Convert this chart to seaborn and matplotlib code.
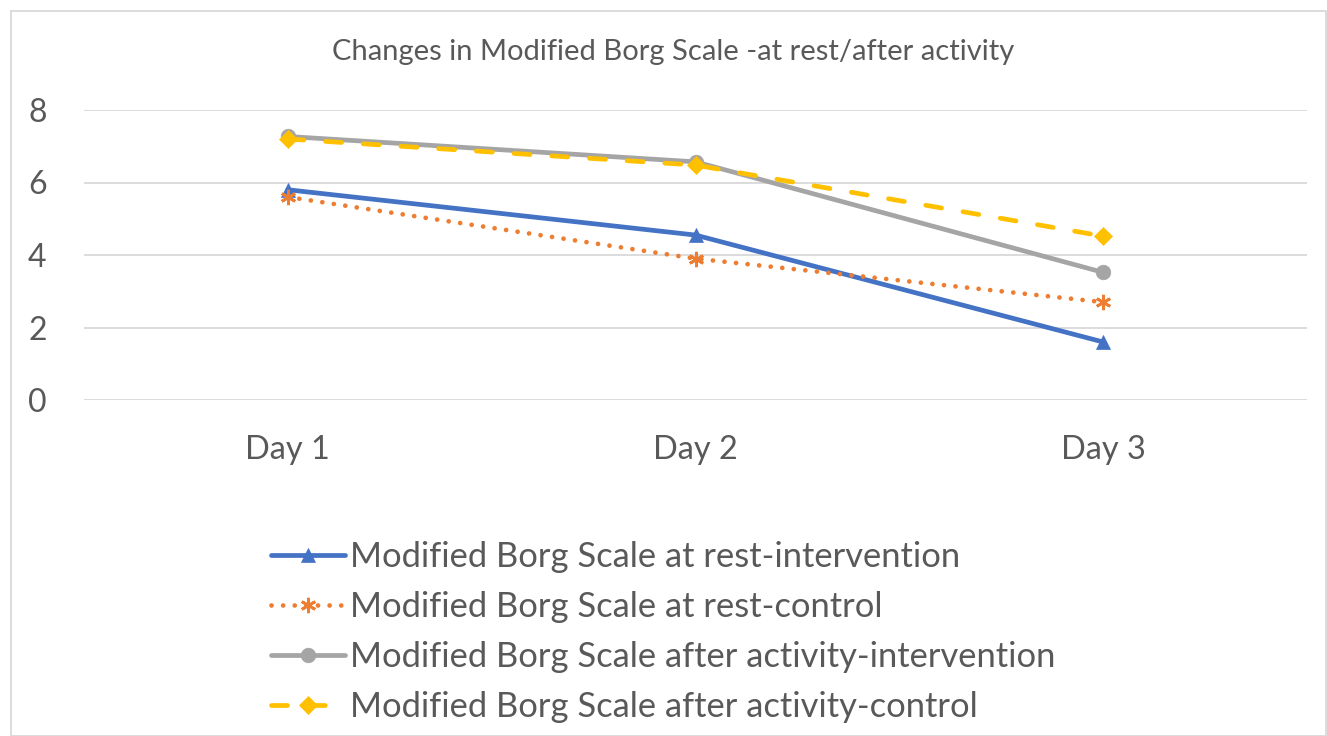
import matplotlib
matplotlib.use("Agg")
import matplotlib.pyplot as plt
import seaborn as sns
import pandas as pd
from matplotlib.patches import Rectangle

days = ["Day 1", "Day 2", "Day 3"]
rest_intervention = [5.8, 4.55, 1.6]
rest_control = [5.6, 3.9, 2.7]
after_intervention = [7.27, 6.57, 3.52]
after_control = [7.2, 6.48, 4.52]
series_names = [
    "Modified Borg Scale at rest-intervention",
    "Modified Borg Scale at rest-control",
    "Modified Borg Scale after activity-intervention",
    "Modified Borg Scale after activity-control",
]
title = "Changes in Modified Borg Scale -at rest/after activity"
yticks = [0, 2, 4, 6, 8]

sns.set_theme(style="white")
plt.rcParams['font.family'] = ['Lato', 'DejaVu Sans']

fig = plt.figure(figsize=(13.27, 7.36), dpi=100)
ax = fig.add_axes([84/1327, 1-400/736, (1307-84)/1327, (400-110)/736])

txt = "#595959"
styles = [
    dict(color="#4472C4", marker="^", linestyle="-", ms=10, lw=3.4),
    dict(color="#ED7D31", marker=(6, 2, 0), linestyle=(0, (0.01, 2.45)), ms=11, lw=3.4),
    dict(color="#A5A5A5", marker="o", linestyle="-", ms=10.5, lw=3.4),
    dict(color="#FFC000", marker="D", linestyle=(0, (3.4, 4.6)), ms=9, lw=3.4),
]
data = [rest_intervention, rest_control, after_intervention, after_control]
for name, vals, st in zip(series_names, data, styles):
    df = pd.DataFrame({"day": days, "value": vals})
    sns.lineplot(data=df, x="day", y="value", ax=ax, color=st["color"],
                 marker=st["marker"], markersize=st["ms"], linewidth=st["lw"],
                 markeredgecolor=st["color"], markeredgewidth=2 if st["marker"] == (6, 2, 0) else 0.5,
                 label=name, sort=False, dash_capstyle="round", solid_capstyle="round")
    ax.lines[-1].set_linestyle(st["linestyle"])
    ax.lines[-1].set_dash_capstyle("round")

ax.set_xlim(-0.5, 2.5)
ax.set_ylim(0, 8)
ax.set_yticks(yticks)
ax.set_yticklabels([str(v) for v in yticks])
ax.grid(axis="y", color="#D9D9D9", linewidth=1.3)
ax.grid(axis="x", visible=False)
for s in ax.spines.values():
    s.set_visible(False)
ax.tick_params(axis="y", length=0, pad=27, labelsize=23, labelcolor=txt)
ax.tick_params(axis="x", length=0, pad=25, labelsize=23.4, labelcolor=txt)
ax.set_xlabel("")
ax.set_ylabel("")
ax.set_axisbelow(True)

fig.text(673/1327, 1-52/736, title, ha="center", va="center", fontsize=21, color=txt)

handles, labels = ax.get_legend_handles_labels()
ax.get_legend().remove()
fig.legend(handles, labels, loc="upper left", bbox_to_anchor=(254/1327, 1-524/736),
           frameon=False, fontsize=24.8, labelcolor=txt, handlelength=2.15,
           handletextpad=0.15, labelspacing=0.52, borderpad=0)

fig.add_artist(Rectangle((11/1327, 0), (1326-11)/1327, 1-11/736, transform=fig.transFigure,
                         fill=False, edgecolor="#D9D9D9", linewidth=1.3))

fig.savefig("out.png", dpi=100)
